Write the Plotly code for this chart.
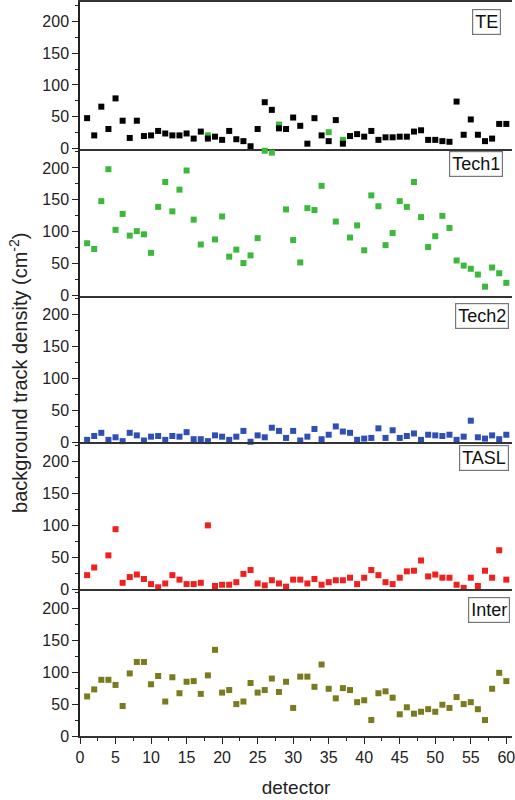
import plotly.graph_objects as go
from plotly.subplots import make_subplots

detectors = list(range(1, 61))

te = [48, 21, 66, 31, 79, 44, 17, 44, 20, 21, 28, 24, 21, 21, 24, 16, 27, 16, 19, 14,
      28, 15, 12, 4, 31, 73, 61, 32, 31, 49, 36, 8, 48, 21, 12, 45, 8, 20, 23, 19,
      28, 14, 18, 18, 19, 19, 27, 29, 14, 14, 12, 11, 74, 22, 46, 22, 12, 16, 39, 39]

# green points that appear inside the TE panel
te_green_x = [18, 28, 35, 37]
te_green_y = [21, 38, 26, 14]

tech1 = [82, 73, 148, 198, 103, 128, 94, 101, 96, 67, 139, 178, 132, 166, 196, 119, 80, None, 88, 124,
         61, 72, 51, 63, 90, 227, 224, None, 135, 87, 52, 137, 134, 172, None, 116, None, 91, 110, 71,
         157, 140, 79, 98, 148, 139, 178, 123, 76, 93, 125, 106, 55, 47, 42, 33, 14, 44, 35, 20]

tech2 = [4, 10, 15, 4, 8, 2, 15, 11, 3, 9, 10, 4, 10, 9, 16, 5, 5, 2, 11, 9,
         4, 9, 18, 1, 11, 8, 23, 18, 7, 18, 3, 9, 21, 5, 12, 25, 17, 15, 4, 6,
         7, 22, 7, 19, 7, 10, 14, 4, 12, 11, 10, 12, 4, 9, 34, 8, 6, 11, 5, 12]

tasl = [22, 34, None, 53, 94, 10, 19, 23, 16, 8, 3, 9, 22, 15, 8, 8, 10, 100, 5, 7,
        7, 11, 24, 30, 9, 6, 14, 9, 4, 15, 15, 9, 16, 7, 11, 14, 14, 18, 8, 18,
        30, 22, 11, 8, 18, 28, 29, 45, 20, 23, 18, 18, 7, 2, 18, 5, 29, 18, 61, 15]

inter = [62, 73, 88, 88, 80, 47, 98, 116, 116, 81, 94, 54, 92, 67, 85, 86, 66, 95, 135, 68,
         72, 50, 54, 83, 68, 72, 90, 69, 85, 44, 93, 93, 77, 112, 74, 59, 75, 72, 53, 56,
         25, 67, 70, 60, 34, 45, 35, 38, 42, 38, 49, 44, 61, 50, 53, 42, 25, 74, 99, 86]

panel_names = ["TE", "Tech1", "Tech2", "TASL", "Inter"]
panel_data = [te, tech1, tech2, tasl, inter]
panel_colors = ["#000000", "#3cb83c", "#2e4fb5", "#ee2020", "#7a7a1e"]

y_ticks = [0, 50, 100, 150, 200]
x_ticks = list(range(0, 61, 5))

FONT = "Liberation Sans, Arial, sans-serif"

fig = make_subplots(rows=5, cols=1, shared_xaxes=True, vertical_spacing=0)

# green points in TE panel (drawn below black)
fig.add_trace(go.Scatter(x=te_green_x, y=te_green_y, mode="markers",
                         marker=dict(symbol="square", size=6, color=panel_colors[1]),
                         cliponaxis=False, showlegend=False), row=1, col=1)

for i, (name, data, col) in enumerate(zip(panel_names, panel_data, panel_colors)):
    fig.add_trace(go.Scatter(x=detectors, y=data, mode="markers", name=name,
                             marker=dict(symbol="square", size=6, color=col),
                             cliponaxis=False, showlegend=False), row=i + 1, col=1)

axis_font = dict(family=FONT, size=16, color="#222222")

for i in range(5):
    fig.update_yaxes(range=[0, 230], tickvals=y_ticks, ticks="outside", ticklen=6,
                     tickwidth=1.2, tickcolor="#222", showline=True, linecolor="#222",
                     linewidth=1.5, showgrid=False, zeroline=False, tickfont=axis_font,
                     minor=dict(ticks="outside", ticklen=3, dtick=25, tick0=0, tickcolor="#222"),
                     row=i + 1, col=1)
    bottom = (i == 4)
    fig.update_xaxes(range=[0, 60.8], showline=True, linecolor="#333", linewidth=1.5,
                     showgrid=False, zeroline=False, mirror=(i == 0),
                     row=i + 1, col=1)
    if bottom:
        fig.update_xaxes(tickvals=x_ticks, ticks="outside", ticklen=6, tickwidth=1.2,
                         tickcolor="#222", tickfont=axis_font, showticklabels=True,
                         ticklabeloverflow="allow",
                         minor=dict(ticks="outside", ticklen=3, dtick=2.5, tick0=0, tickcolor="#222"),
                         title=dict(text="detector", font=dict(family=FONT, size=19, color="#222"),
                                    standoff=16),
                         row=i + 1, col=1)
    else:
        fig.update_xaxes(showticklabels=False, ticks="", row=i + 1, col=1)

# panel label boxes
label_tops = [0.991, 0.797, 0.590, 0.397, 0.189]
label_x = [0.975, 0.98, 0.994, 0.993, 0.995]
for name, yt, xr in zip(panel_names, label_tops, label_x):
    fig.add_annotation(text=name, xref="paper", yref="paper", x=xr, y=yt,
                       xanchor="right", yanchor="top", showarrow=False,
                       font=dict(family=FONT, size=18, color="#111"),
                       bordercolor="#777", borderwidth=1.2, borderpad=2, bgcolor="white")

fig.add_annotation(text="background track density (cm<sup>-2</sup>)", xref="paper", yref="paper",
                   x=-0.143, y=0.495, xanchor="center", yanchor="middle", textangle=-90,
                   showarrow=False,
                   font=dict(family=FONT, size=20, color="#222"))

fig.update_layout(width=515, height=800, margin=dict(l=80, r=0, t=1, b=64),
                  plot_bgcolor="white", paper_bgcolor="white", showlegend=False)

fig.write_html("out.html", config={"displayModeBar": False},
               post_script="document.body.style.margin='0';document.body.style.overflow='hidden';")
